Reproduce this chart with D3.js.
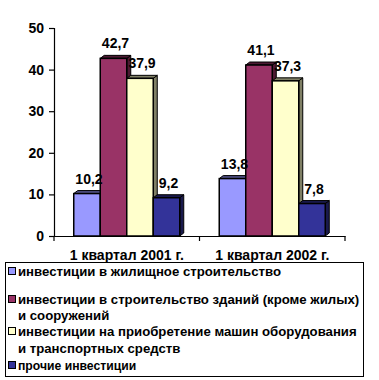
<!DOCTYPE html>
<html><head><meta charset="utf-8">
<script src="https://cdn.jsdelivr.net/npm/d3@7"></script>
<style>body{margin:0;background:#fff}svg{display:block}text{font-family:"Liberation Sans",Arial,sans-serif}</style>
</head><body>
<svg id="c" width="379" height="380"></svg>
<script>
const categories = ["1 квартал 2001 г.", "1 квартал 2002 г."];
const seriesNames = [
  "инвестиции в жилищное строительство",
  "инвестиции в строительство зданий (кроме жилых) и сооружений",
  "инвестиции на приобретение машин оборудования и транспортных средств",
  "прочие инвестиции"
];
const housing = [10.2, 13.8];
const buildings = [42.7, 41.1];
const machinery = [37.9, 37.3];
const other = [9.2, 7.8];
const yTicks = [0, 10, 20, 30, 40, 50];
const colors = ["#9999FF", "#993366", "#FFFFCC", "#333399"];
const sideColors = ["#4d4d80", "#4d1a33", "#808066", "#1a1a4d"];
const legendLines = [
  ["инвестиции в жилищное строительство"],
  ["инвестиции в строительство зданий (кроме жилых)", "и сооружений"],
  ["инвестиции на приобретение машин оборудования", "и транспортных средств"],
  ["прочие инвестиции"]
];

const values = [housing, buildings, machinery, other];
const svg = d3.select("#c");
const x0 = d3.scaleBand().domain(categories).range([54, 345]);
const x1 = d3.scaleBand().domain(d3.range(4)).range([0, x0.bandwidth()]).paddingOuter(0.745);
const y = d3.scaleLinear().domain([0, 50]).range([236, 28]);
const dx = 4, dy = -3;

// axes
const yAxis = svg.append("g").attr("transform", "translate(54,0)")
  .call(d3.axisLeft(y).tickValues(yTicks).tickSize(5).tickPadding(5).tickFormat(d3.format("d")));
yAxis.select(".domain").attr("stroke", "#000").attr("stroke-width", 1.2);
yAxis.selectAll("line").attr("stroke", "#000").attr("stroke-width", 1.2);
yAxis.selectAll("text").attr("font-size", 14).attr("font-weight", "bold").attr("fill", "#000")
  .attr("font-family", "Liberation Sans, Arial, sans-serif");

// bars
const labels = [];
categories.forEach((cat, ci) => {
  values.forEach((arr, si) => {
    const v = arr[ci];
    const bx = x0(cat) + x1(si), w = x1.bandwidth();
    const top = y(v), base = y(0);
    const g = svg.append("g");
    g.append("polygon")
      .attr("points", [[bx + w, top], [bx + w + dx, top + dy], [bx + w + dx, base + dy], [bx + w, base]].join(" "))
      .attr("fill", sideColors[si]).attr("stroke", "#000").attr("stroke-width", 1);
    g.append("polygon")
      .attr("points", [[bx, top], [bx + dx, top + dy], [bx + w + dx, top + dy], [bx + w, top]].join(" "))
      .attr("fill", sideColors[si]).attr("stroke", "#000").attr("stroke-width", 1);
    g.append("rect").attr("x", bx).attr("y", top).attr("width", w).attr("height", base - top)
      .attr("fill", colors[si]).attr("stroke", "#000").attr("stroke-width", 1.5);
    labels.push({x: bx + w / 2 + 2, y: top - 10, t: String(v).replace(".", ",")});
  });
});
svg.selectAll("text.val").data(labels).enter().append("text").attr("class", "val")
  .attr("x", d => d.x).attr("y", d => d.y)
  .attr("text-anchor", "middle").attr("font-size", 14).attr("font-weight", "bold")
  .text(d => d.t);

const xAxis = svg.append("g").attr("transform", "translate(0,236)")
  .call(d3.axisBottom(x0).tickSize(0).tickPadding(12));
xAxis.select(".domain").attr("stroke", "#000").attr("stroke-width", 1.2);
xAxis.selectAll("text").attr("font-size", 14).attr("font-weight", "bold").attr("fill", "#000")
  .attr("font-family", "Liberation Sans, Arial, sans-serif").attr("dy", "0.85em");
// category boundary ticks
xAxis.selectAll("line.bt").data([54, 54 + x0.step(), 54 + 2 * x0.step()]).enter().append("line")
  .attr("class", "bt").attr("x1", d => d).attr("x2", d => d).attr("y1", 0).attr("y2", 5)
  .attr("stroke", "#000").attr("stroke-width", 1.2);

// legend
const lg = svg.append("g");
lg.append("rect").attr("x", 5.5).attr("y", 262.5).attr("width", 358).attr("height", 114)
  .attr("fill", "#fff").attr("stroke", "#000").attr("stroke-width", 1);
const baselines = [[276], [304, 320], [336, 353], [370]];
legendLines.forEach((lines, i) => {
  const fs = i === 3 ? 12.2 : 13.2;
  lg.append("rect").attr("x", 8.5).attr("y", baselines[i][0] - 8.5).attr("width", 7).attr("height", 7)
    .attr("fill", colors[i]).attr("stroke", "#000").attr("stroke-width", 1);
  lines.forEach((t, j) => {
    lg.append("text").attr("x", 18).attr("y", baselines[i][j]).attr("font-size", fs)
      .attr("font-weight", "bold").text(t);
  });
});
</script>
</body></html>
